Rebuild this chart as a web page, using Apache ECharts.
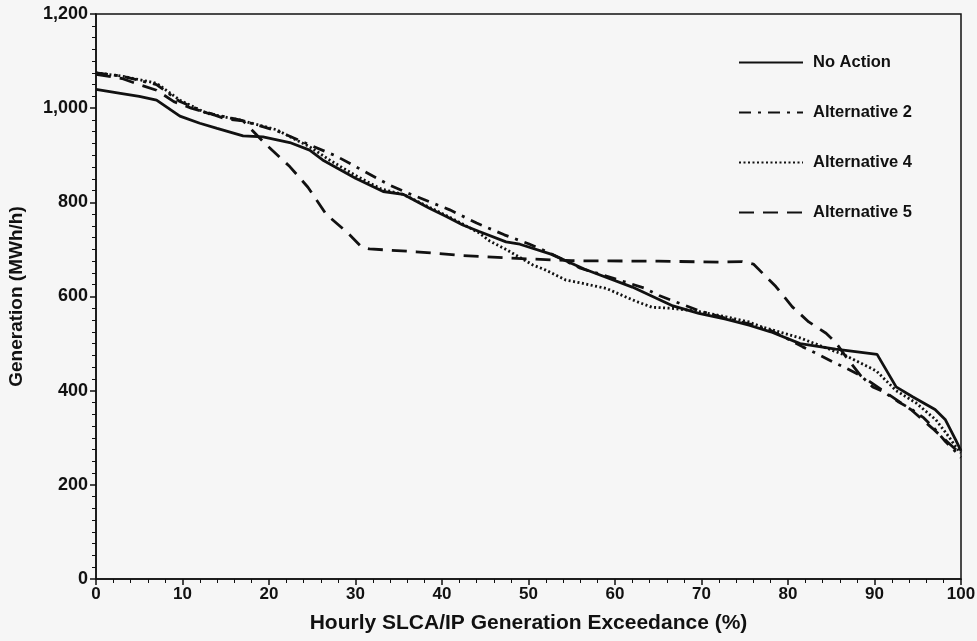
<!DOCTYPE html>
<html>
<head>
<meta charset="utf-8">
<script src="https://cdn.jsdelivr.net/npm/echarts@6/dist/echarts.min.js"></script>
<style>
    html, body { margin: 0; padding: 0; background: #f6f6f6; }
    #chart { width: 977px; height: 641px; }
</style>
</head>
<body>
<div id="chart"></div>
<script>
// series names as shown in the legend
var seriesNames = ['No Action', 'Alternative 2', 'Alternative 4', 'Alternative 5'];

// [exceedance %, generation MWh/h]
var noAction = [[0,1040],[3,1031],[5,1025],[7,1017],[9.7,983],[12,968],[14,957],[17,941],[19.3,939],[22.4,927],[24.7,911],[26.2,890],[30,851],[33.2,823],[35.5,817],[38.6,787],[40.5,770],[42.4,752],[44.3,738],[47.4,716],[49,711],[52.6,690],[56.5,658],[62,620],[66.7,580],[69.7,564],[72.8,552],[75.5,539],[78,525],[81.4,500],[85.5,488],[90.3,477],[92.5,408],[94.4,387],[97,360],[98.2,338],[99.4,295],[100,272]];

var alt2 = [[0,1075],[3,1068],[7,1050],[9.7,1014],[12.8,990],[16.6,975],[20.9,952],[23.2,934],[24.7,922],[27.8,898],[30.9,867],[33.9,837],[36,820],[39,798],[40.9,784],[44,756],[47.2,731],[50,712],[52.5,692],[56,660],[58.2,648],[63.4,618],[65.1,602],[69.7,570],[72.8,554],[75.5,542],[78,528],[80.5,505],[81.7,493],[83.4,478],[85.1,462],[86.7,448],[88.4,432],[89.8,408],[91,398],[92.8,376],[94.4,359],[95.7,342],[97.1,316],[98.2,292],[99.4,270],[100,258]];

var alt4 = [[0,1075],[3,1068],[7,1053],[9.7,1017],[12.8,989],[16.6,975],[20.9,954],[23.2,932],[24.7,918],[27,890],[30,857],[33,828],[35.5,817],[38.6,789],[40.5,772],[42.4,754],[44.3,735],[45.5,718],[47.4,700],[50.5,667],[52,656],[54.3,635],[56,629],[59,617],[62.4,590],[64.3,577],[66.6,575],[69.7,568],[72.8,557],[75.5,546],[76.7,537],[81.4,512],[86.5,476],[90.2,442],[92.5,400],[94.8,374],[97.1,338],[98.6,302],[99.5,278],[100,268]];

var alt5 = [[0,1072],[3,1063],[5,1050],[7,1038],[9,1014],[11,1000],[13,990],[15,977],[17,973],[19.7,922],[22.4,876],[24.5,832],[26.6,775],[29.1,735],[30.7,705],[31.6,701],[37,695],[42.4,687],[47.4,682],[55,676],[65,675],[72,673],[74.7,674],[76,669],[78.6,621],[80.5,578],[82.4,546],[84.4,522],[85.5,503],[86.7,472],[88.4,432],[91,400],[94.2,360],[96.7,320],[98.5,290],[100,265]];

var chart = echarts.init(document.getElementById('chart'));

var font = 'Liberation Sans';
var ink = '#111';

function line(name, data, type, width) {
    return {
        name: name,
        type: 'line',
        data: data,
        symbol: 'none',
        color: ink,
        itemStyle: { color: ink },
        lineStyle: { color: ink, width: width, type: type }
    };
}

var option = {
    backgroundColor: '#f6f6f6',
    animation: false,
    grid: {
        left: 96, right: 16, top: 14, bottom: 62,
        outerBoundsMode: 'none',
        containLabel: false,
        show: true,
        borderColor: ink,
        borderWidth: 1.5,
        backgroundColor: 'transparent'
    },
    legend: {
        orient: 'vertical',
        left: 733,
        top: 49,
        itemWidth: 64,
        itemHeight: 14,
        itemGap: 33,
        data: seriesNames,
        itemStyle: { opacity: 0 },
        textStyle: {
            color: ink,
            fontFamily: font,
            fontWeight: 'bold',
            fontSize: 16.5,
            padding: [0, 0, 0, 5]
        }
    },
    xAxis: {
        type: 'value',
        min: 0,
        max: 100,
        interval: 10,
        name: 'Hourly SLCA/IP Generation Exceedance (%)',
        nameLocation: 'middle',
        nameGap: 34,
        nameTextStyle: { color: ink, fontFamily: font, fontWeight: 'bold', fontSize: 21 },
        axisLine: { lineStyle: { color: ink, width: 1.5 } },
        axisTick: { length: 6, lineStyle: { color: ink, width: 1.5 } },
        minorTick: { show: true, splitNumber: 5, length: 4, lineStyle: { color: ink, width: 1 } },
        splitLine: { show: false },
        axisLabel: { color: ink, fontFamily: font, fontWeight: 'bold', fontSize: 17, margin: 7 }
    },
    yAxis: {
        type: 'value',
        min: 0,
        max: 1200,
        interval: 200,
        name: 'Generation (MWh/h)',
        nameLocation: 'middle',
        nameGap: 70,
        nameTextStyle: { color: ink, fontFamily: font, fontWeight: 'bold', fontSize: 19 },
        axisLine: { lineStyle: { color: ink, width: 1.5 } },
        axisTick: { length: 6, lineStyle: { color: ink, width: 1.5 } },
        minorTick: { show: true, splitNumber: 8, length: 4, lineStyle: { color: ink, width: 1 } },
        splitLine: { show: false },
        axisLabel: {
            color: ink, fontFamily: font, fontWeight: 'bold', fontSize: 18, margin: 8,
            formatter: function (v) { return v.toLocaleString('en-US'); }
        }
    },
    series: [
        line(seriesNames[0], noAction, 'solid', 2.8),
        line(seriesNames[1], alt2, [12, 7, 3, 7], 2.8),
        line(seriesNames[2], alt4, [2, 2.5], 2.8),
        line(seriesNames[3], alt5, [15, 9], 2.8)
    ]
};

chart.setOption(option);
</script>
</body>
</html>
